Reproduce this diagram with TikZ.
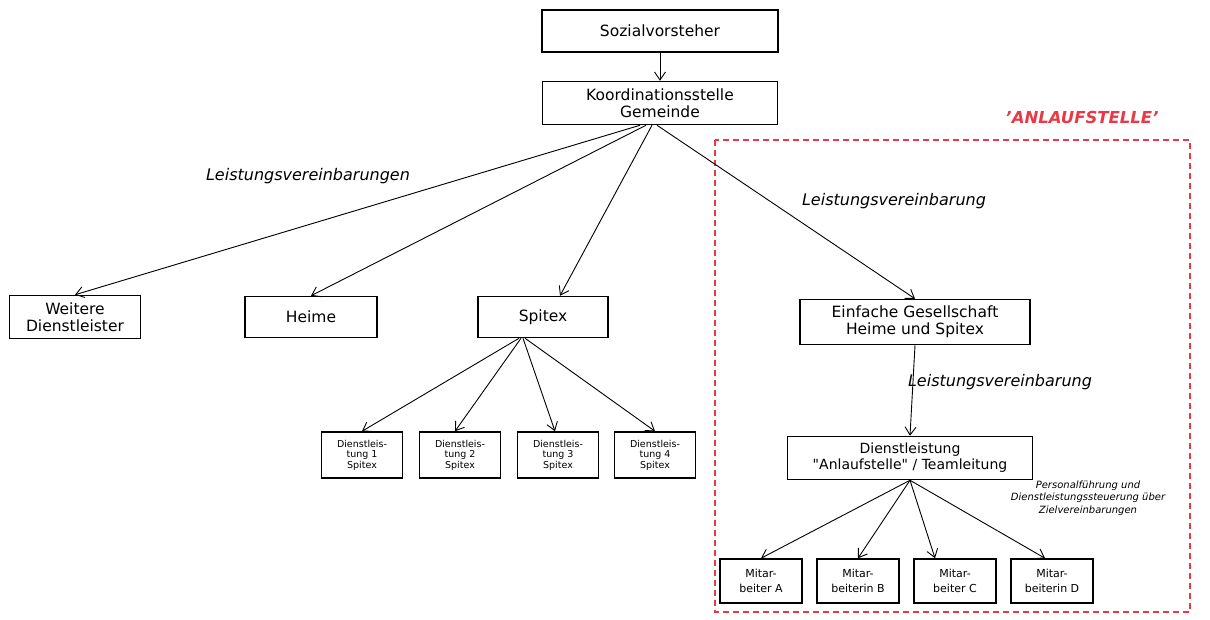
\documentclass[tikz,border=0pt]{standalone}
\usepackage{fontspec}
\setmainfont{DejaVu Sans}
\usetikzlibrary{arrows.meta}
\definecolor{anlred}{RGB}{232,58,70}
\tikzset{
  box/.style={draw, line width=1.5pt, align=center, inner sep=0pt, font=\fontsize{15.5}{17}\selectfont},
  smallbox/.style={box, minimum width=81pt, minimum height=46pt, font=\fontsize{9.5}{10.5}\selectfont},
  mabox/.style={box, minimum width=82pt, minimum height=44pt, font=\fontsize{11}{15}\selectfont},
  arr/.style={-{Straight Barb[length=8pt,width=11pt]}, line width=0.9pt},
  lbl/.style={font=\itshape\fontsize{16}{18}\selectfont},
}
\begin{document}
\begin{tikzpicture}[x=1pt,y=-1pt]
\useasboundingbox (0,0) rectangle (1210,619);
\node[box, minimum width=236pt, minimum height=42pt] (soz) at (660,31) {Sozialvorsteher};
\node[box, minimum width=235pt, minimum height=43pt] (koord) at (660,103) {Koordinationsstelle\\Gemeinde};
\node[box, minimum width=131pt, minimum height=43pt] (weit) at (75,317) {Weitere\\Dienstleister};
\node[box, minimum width=132pt, minimum height=41pt] (heime) at (311,317) {Heime};
\node[box, minimum width=130pt, minimum height=41pt] (spitex) at (543,317) {Spitex};
\node[box, minimum width=230pt, minimum height=45pt] (eg) at (915,322) {Einfache Gesellschaft\\Heime und Spitex};
\node[box, minimum width=245pt, minimum height=43pt, font=\fontsize{14}{16}\selectfont] (dl) at (910,458) {Dienstleistung\\\textquotedbl Anlaufstelle\textquotedbl\ / Teamleitung};
\node[smallbox] (d1) at (362,455) {Dienstleis-\\tung 1\\Spitex};
\node[smallbox] (d2) at (460,455) {Dienstleis-\\tung 2\\Spitex};
\node[smallbox] (d3) at (558,455) {Dienstleis-\\tung 3\\Spitex};
\node[smallbox] (d4) at (655,455) {Dienstleis-\\tung 4\\Spitex};
\node[mabox] (ma) at (761,581) {Mitar-\\beiter A};
\node[mabox] (mb) at (858,581) {Mitar-\\beiterin B};
\node[mabox] (mc) at (955,581) {Mitar-\\beiter C};
\node[mabox] (md) at (1052,581) {Mitar-\\beiterin D};
% dashed frame
\draw[anlred, line width=1.8pt, dash pattern=on 6pt off 4pt] (715,140) rectangle (1190,612);
\node[text=anlred, font=\bfseries\itshape\fontsize{16.5}{18}\selectfont] (anl) at (1082,117) {'ANLAUFSTELLE'};
% labels
\node[lbl] (l1) at (308,176) {Leistungsvereinbarungen};
\node[lbl] (l2) at (894,201) {Leistungsvereinbarung};
\node[lbl] (l3) at (1000,382) {Leistungsvereinbarung};
\node[font=\itshape\fontsize{10}{12.5}\selectfont, align=center] (ann) at (1088,498) {Personalführung und\\Dienstleistungssteuerung über\\Zielvereinbarungen};
% connectors
\draw[arr] (soz.south) -- (koord.north);
\draw[arr] ([xshift=-20pt]koord.south) -- (weit.north);
\draw[arr] ([xshift=-14pt]koord.south) -- (heime.north);
\draw[arr] ([xshift=-8pt]koord.south) -- ([xshift=17pt]spitex.north);
\draw[arr] ([xshift=-3pt]koord.south) -- (eg.north);
\draw[arr] (eg.south) -- (dl.north);
\draw[arr] ([xshift=-24pt]spitex.south) -- (d1.north);
\draw[arr] ([xshift=-22pt]spitex.south) -- ([xshift=-5pt]d2.north);
\draw[arr] ([xshift=-20pt]spitex.south) -- ([xshift=-3pt]d3.north);
\draw[arr] ([xshift=-18pt]spitex.south) -- (d4.north);
\draw[arr] (dl.south) -- (ma.north);
\draw[arr] (dl.south) -- (mb.north);
\draw[arr] (dl.south) -- ([xshift=-20pt]mc.north);
\draw[arr] (dl.south) -- ([xshift=-7pt]md.north);
\end{tikzpicture}
\end{document}
